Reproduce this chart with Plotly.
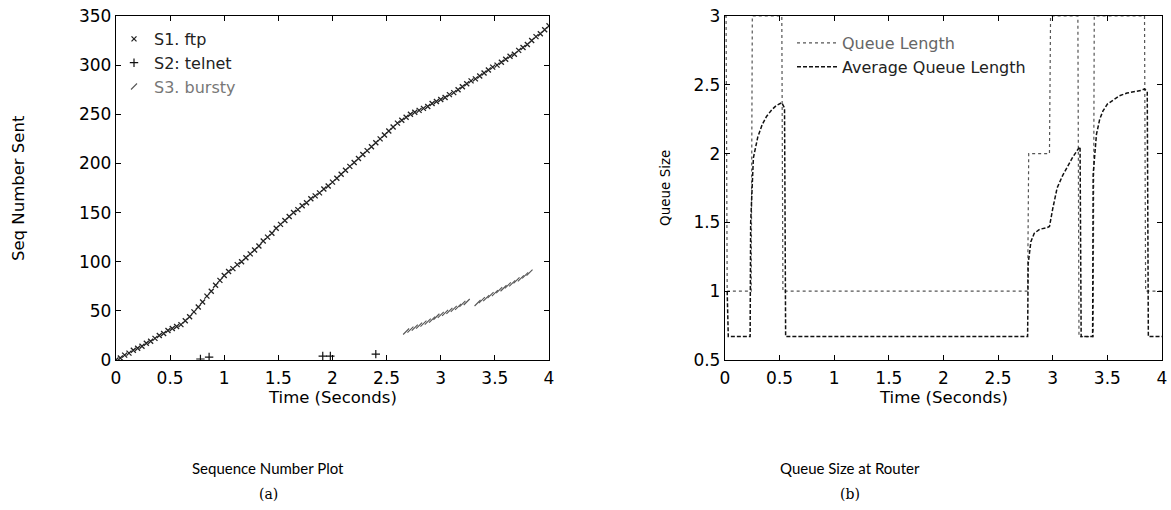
import plotly.graph_objects as go

# ---------------- data: (a) sequence number plot ----------------
s1_time = [0.00, 0.04, 0.08, 0.12, 0.16, 0.20, 0.24, 0.28, 0.32, 0.36, 0.40, 0.44, 0.48, 0.52, 0.56,
           0.60, 0.64, 0.68, 0.72, 0.76, 0.80, 0.84, 0.88, 0.92, 0.96, 1.00, 1.04, 1.08, 1.12, 1.16,
           1.20, 1.24, 1.28, 1.32, 1.36, 1.40, 1.44, 1.48, 1.52, 1.56, 1.60, 1.64, 1.68, 1.72, 1.76,
           1.80, 1.84, 1.88, 1.92, 1.96, 2.00, 2.04, 2.08, 2.12, 2.16, 2.20, 2.24, 2.28, 2.32, 2.36,
           2.40, 2.44, 2.48, 2.52, 2.56, 2.60, 2.64, 2.68, 2.72, 2.76, 2.80, 2.84, 2.88, 2.92, 2.96,
           3.00, 3.04, 3.08, 3.12, 3.16, 3.20, 3.24, 3.28, 3.32, 3.36, 3.40, 3.44, 3.48, 3.52, 3.56,
           3.60, 3.64, 3.68, 3.72, 3.76, 3.80, 3.84, 3.88, 3.92, 3.96, 4.00]
s1_seq = [0, 2, 5, 7, 10, 12, 14, 17, 19, 22, 25, 27, 30, 32, 34,
          36, 40, 44, 49, 54, 59, 65, 70, 76, 81, 86, 90, 93, 97, 100,
          104, 108, 112, 116, 121, 125, 129, 134, 138, 142, 146, 150, 153, 157, 160,
          164, 167, 170, 174, 177, 181, 185, 189, 193, 197, 201, 205, 209, 213, 217,
          221, 225, 229, 233, 237, 241, 244, 247, 250, 252, 254, 256, 258, 261, 263,
          265, 267, 270, 272, 275, 278, 281, 284, 286, 289, 292, 295, 298, 300, 303,
          306, 309, 311, 315, 318, 321, 325, 329, 332, 336, 340]

s2_time = [0.78, 0.86, 1.91, 1.98, 2.40]
s2_seq = [1, 3, 4, 4, 6]

s3_time = [2.68, 2.72, 2.76, 2.80, 2.84, 2.88, 2.92, 2.96, 3.00, 3.04, 3.08, 3.12, 3.16, 3.20, 3.24,
           3.34, 3.38, 3.42, 3.46, 3.50, 3.54, 3.58, 3.62, 3.66, 3.70, 3.74, 3.78, 3.82]
s3_seq = [29, 31, 33, 35, 37, 39, 41, 44, 46, 48, 50, 52, 54, 57, 59,
          58, 61, 63, 66, 68, 71, 73, 76, 78, 81, 83, 86, 89]

# ---------------- data: (b) queue size at router ----------------
queue_time = [0.00, 0.01, 0.02, 0.24, 0.25, 0.52, 0.53, 2.77, 2.78, 2.97, 2.98, 3.23, 3.24,
              3.37, 3.38, 3.84, 3.85, 4.00]
queue_len = [3, 3, 1, 1, 3, 3, 1, 1, 2, 2, 3, 3, 0.67, 0.67, 3, 3, 1, 1]

avg_time = [0.02, 0.03, 0.23, 0.235, 0.26, 0.30, 0.34, 0.38, 0.43, 0.47, 0.52, 0.545, 0.555,
            2.77, 2.775, 2.80, 2.83, 2.88, 2.94, 2.97, 3.00, 3.04, 3.09, 3.13, 3.18, 3.23, 3.25,
            3.26, 3.365, 3.37, 3.40, 3.43, 3.46, 3.50, 3.55, 3.61, 3.68, 3.75, 3.81, 3.84, 3.865,
            3.875, 4.00]
avg_len = [1.0, 0.67, 0.67, 1.5, 1.97, 2.12, 2.21, 2.27, 2.32, 2.35, 2.37, 2.33, 0.67,
           0.67, 1.2, 1.36, 1.42, 1.45, 1.46, 1.47, 1.6, 1.75, 1.84, 1.90, 1.97, 2.03, 2.05,
           0.67, 0.67, 1.85, 2.14, 2.25, 2.31, 2.36, 2.39, 2.42, 2.44, 2.45, 2.46, 2.47, 2.45,
           0.67, 0.67]

x_ticks = [0, 0.5, 1, 1.5, 2, 2.5, 3, 3.5, 4]
x_tick_text = ["0", "0.5", "1", "1.5", "2", "2.5", "3", "3.5", "4"]
seq_ticks = [0, 50, 100, 150, 200, 250, 300, 350]
queue_ticks = [0.5, 1, 1.5, 2, 2.5, 3]
queue_tick_text = ["0.5", "1", "1.5", "2", "2.5", "3"]

W, H = 1171, 510
FONT = "DejaVu Sans"

def px(x):
    return x / W

def py(y):
    return 1 - y / H

fig = go.Figure()

fig.add_trace(go.Scatter(x=s1_time, y=s1_seq, mode="markers", name="S1. ftp",
                         marker=dict(symbol="x-thin", size=5, color="#222",
                                     line=dict(width=1.3, color="#222")),
                         xaxis="x", yaxis="y", legend="legend"))
fig.add_trace(go.Scatter(x=s2_time, y=s2_seq, mode="markers", name="S2: telnet",
                         marker=dict(symbol="cross-thin", size=6, color="#111",
                                     line=dict(width=1.2, color="#111")),
                         xaxis="x", yaxis="y", legend="legend"))
fig.add_trace(go.Scatter(x=s3_time, y=s3_seq, mode="markers",
                         name="<span style='color:#777'>S3. bursty</span>",
                         marker=dict(symbol="line-ne", size=6, color="#555",
                                     line=dict(width=1.1, color="#555")),
                         xaxis="x", yaxis="y", legend="legend"))

fig.add_trace(go.Scatter(x=queue_time, y=queue_len, mode="lines",
                         name="<span style='color:#666'>Queue Length</span>",
                         line=dict(color="#555", width=1.2, dash="dot"),
                         xaxis="x2", yaxis="y2", legend="legend2"))
fig.add_trace(go.Scatter(x=avg_time, y=avg_len, mode="lines", name="Average Queue Length",
                         line=dict(color="#111", width=1.5, dash="4px,2px"),
                         xaxis="x2", yaxis="y2", legend="legend2"))

axis_common = dict(showline=True, linecolor="black", linewidth=1.3, mirror="ticks",
                   ticks="inside", ticklen=5, tickcolor="black", tickwidth=1,
                   showgrid=False, zeroline=False, automargin=False,
                   ticklabeloverflow="allow",
                   tickfont=dict(family=FONT, size=17, color="black"))

y_dom = [py(360), py(16)]
fig.update_layout(
    template="none",
    width=W, height=H, margin=dict(l=0, r=0, t=0, b=0, pad=0), autosize=False,
    paper_bgcolor="white", plot_bgcolor="white",
    xaxis=dict(domain=[px(116), px(549)], range=[0, 4], tickvals=x_ticks,
               ticktext=x_tick_text, anchor="y", ticklabelstandoff=2, **axis_common),
    yaxis=dict(domain=y_dom, range=[0, 350], tickvals=seq_ticks, anchor="x", **axis_common),
    xaxis2=dict(domain=[px(725), px(1162)], range=[0, 4], tickvals=x_ticks,
                ticktext=x_tick_text, anchor="y2", ticklabelstandoff=2, **axis_common),
    yaxis2=dict(domain=y_dom, range=[0.5, 3], tickvals=queue_ticks,
                ticktext=queue_tick_text, anchor="x2", **axis_common),
    legend=dict(x=px(114), y=py(22), xanchor="left", yanchor="top",
                bgcolor="rgba(0,0,0,0)", font=dict(family=FONT, size=16, color="#222"),
                itemsizing="trace", tracegroupgap=0),
    legend2=dict(x=px(792), y=py(26), xanchor="left", yanchor="top",
                 bgcolor="rgba(0,0,0,0)", font=dict(family=FONT, size=16, color="#222"),
                 itemwidth=40, tracegroupgap=0),
    showlegend=True,
)

annotations = [
    dict(text="Time (Seconds)", x=px(332), y=py(397), font=dict(family=FONT, size=16.5)),
    dict(text="Time (Seconds)", x=px(943), y=py(397), font=dict(family=FONT, size=16.5)),
    dict(text="Seq Number Sent", x=px(18), y=py(188), textangle=-90, font=dict(family=FONT, size=16.5)),
    dict(text="Queue Size", x=px(665), y=py(188), textangle=-90, font=dict(family=FONT, size=13.5)),
    dict(text="Sequence Number Plot", x=px(268), y=py(468), font=dict(family="Lato", size=15)),
    dict(text="(a)", x=px(268), y=py(494), font=dict(family="DejaVu Serif", size=14)),
    dict(text="Queue Size at Router", x=px(850), y=py(468), font=dict(family="Lato", size=15)),
    dict(text="(b)", x=px(850), y=py(494), font=dict(family="DejaVu Serif", size=14)),
]
for a in annotations:
    a.update(xref="paper", yref="paper", showarrow=False, xanchor="center", yanchor="middle")
    a["font"]["color"] = "black"
fig.update_layout(annotations=annotations)

# remove the browser's default 8px page margin so the figure sits at the window origin
fig.write_html("out.html",
               config={"displayModeBar": False},
               post_script="document.body.style.margin='0';document.body.style.overflow='hidden';")
